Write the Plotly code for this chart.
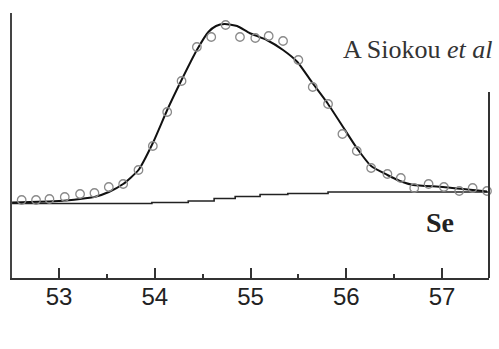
import plotly.graph_objects as go

# Measured data points (binding energy eV, intensity a.u.)
pts_x = [52.61, 52.76, 52.90, 53.06, 53.22, 53.37, 53.52, 53.67, 53.83, 53.98,
         54.13, 54.28, 54.44, 54.59, 54.74, 54.89, 55.05, 55.19, 55.34, 55.50,
         55.65, 55.81, 55.96, 56.11, 56.26, 56.43, 56.57, 56.71, 56.86, 57.02,
         57.18, 57.32, 57.47]
pts_y = [78, 78, 79, 81, 84, 85, 91, 94, 108, 132,
         166, 197, 231, 241, 253, 241, 240, 242, 237, 218,
         191, 174, 144, 127, 110, 104, 100, 90, 94, 91,
         87, 90, 87]

# Fitted envelope
fit_x = [52.51, 53.00, 53.22, 53.37, 53.52, 53.67, 53.83, 53.98, 54.13, 54.28,
         54.44, 54.56, 54.64, 54.73, 54.86, 54.99, 55.17, 55.34, 55.49, 55.64,
         55.81, 55.96, 56.11, 56.26, 56.43, 56.56, 56.70, 57.01, 57.47]
fit_y = [75.5, 77, 79, 81, 86, 94, 108, 135, 168, 198,
         228, 246, 252, 254, 252, 245, 238, 228, 216, 196,
         174, 152, 130, 112, 103, 97, 93, 91, 86.5]

# Step background
bg_x = [52.51, 53.97, 54.35, 54.62, 54.84, 55.10, 55.39, 55.81, 57.49]
bg_y = [74.5, 75.5, 77, 79.5, 81.5, 83.5, 84.5, 86, 86]

tick_vals = [53, 54, 55, 56, 57]
tick_text = ["53", "54", "55", "56", "57"]

fig = go.Figure()
fig.add_trace(go.Scatter(x=bg_x, y=bg_y, mode="lines",
                         line=dict(color="#222", width=1.6, shape="hv"),
                         showlegend=False, hoverinfo="skip"))
fig.add_trace(go.Scatter(x=fit_x, y=fit_y, mode="lines",
                         line=dict(color="#111", width=2, shape="spline", smoothing=0.5),
                         showlegend=False, hoverinfo="skip"))
fig.add_trace(go.Scatter(x=pts_x, y=pts_y, mode="markers",
                         marker=dict(symbol="circle-open", size=8.5,
                                     color="#8a8a8a", line=dict(width=1.3, color="#8a8a8a")),
                         showlegend=False, hoverinfo="skip", cliponaxis=False))

fig.update_layout(
    width=499, height=349,
    margin=dict(l=12, r=10, t=13, b=71),
    paper_bgcolor="white", plot_bgcolor="white",
    xaxis=dict(range=[52.509, 57.491], showgrid=False, zeroline=False,
               showline=True, linecolor="#333", linewidth=2,
               ticks="inside", ticklen=10, tickwidth=2, tickcolor="#333",
               tickvals=tick_vals, ticktext=tick_text, ticklabelstandoff=-4,
               tickfont=dict(family="Liberation Sans", size=24, color="#222"),
               minor=dict(ticks="inside", ticklen=4, tickwidth=2, tickcolor="#333", dtick=0.5)),
    yaxis=dict(range=[0, 265], showgrid=False, zeroline=False,
               showline=True, linecolor="#444", linewidth=2,
               showticklabels=False, ticks=""),
    shapes=[dict(type="line", xref="paper", yref="y", x0=1, x1=1, y0=0, y1=186,
                 line=dict(color="#333", width=2))],
    annotations=[
        dict(text="A Siokou <i>et al</i>", xref="x", yref="y",
             x=52.5 + (341 - 11.1) / 95.75, y=228.5, xanchor="left", yanchor="middle",
             showarrow=False, font=dict(family="Liberation Serif", size=26, color="#333")),
        dict(text="<b>Se</b>", xref="x", yref="y",
             x=52.5 + (424 - 11.1) / 95.75, y=56, xanchor="left", yanchor="middle",
             showarrow=False, font=dict(family="Liberation Serif", size=28, color="#222")),
        dict(text="<b>Binding energy / eV</b>", xref="paper", yref="y",
             x=(248.5 - 12) / 477, y=-55.5, xanchor="center", yanchor="middle",
             showarrow=False, font=dict(family="Liberation Serif", size=28, color="#222")),
    ],
)

fig.write_html("out.html")
